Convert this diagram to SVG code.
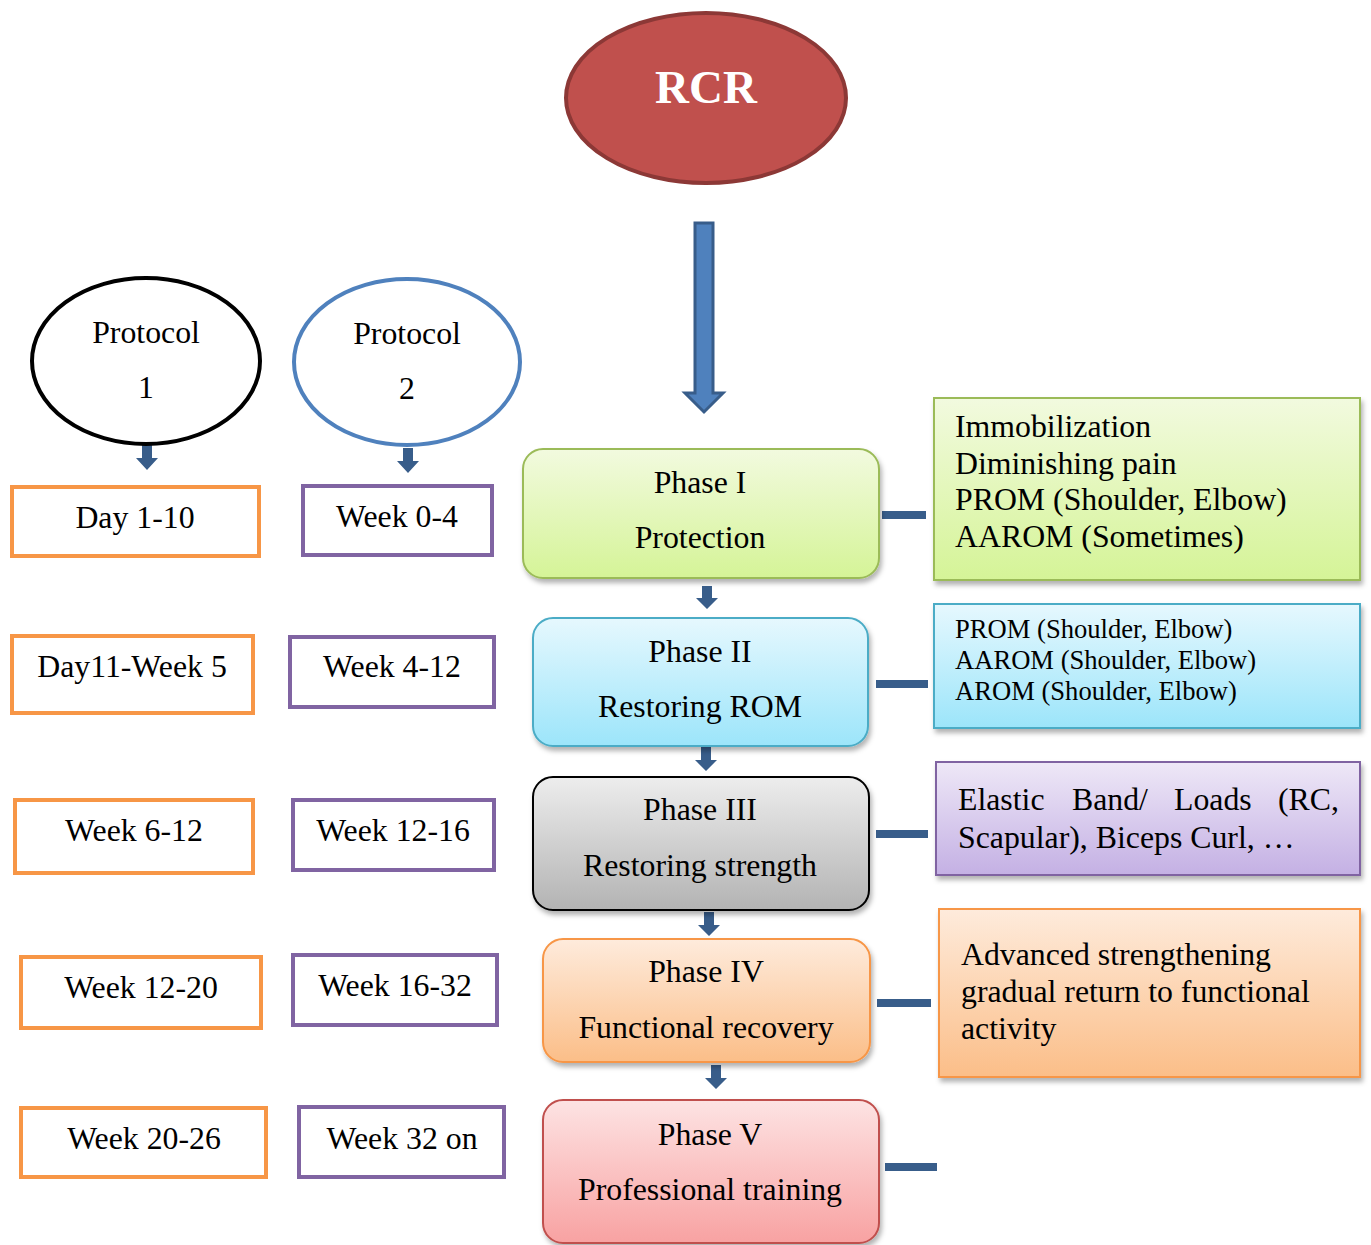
<svg xmlns="http://www.w3.org/2000/svg" width="1371" height="1245" viewBox="0 0 1371 1245">
<style>
text{font-family:"Liberation Serif","Times New Roman",serif;fill:#000;}
.c{text-anchor:middle;}
.t31{font-size:31.8px;}
.t26{font-size:26.6px;}
.orange{fill:#fff;stroke:#F79646;stroke-width:4;}
.purple{fill:#fff;stroke:#8064A2;stroke-width:4;}
.dash{fill:#385D8A;}
.sarrow{fill:#385D8A;}
</style>
<defs>
<filter id="sh" x="-10%" y="-10%" width="125%" height="130%">
<feDropShadow dx="2" dy="4" stdDeviation="2.5" flood-color="#000" flood-opacity="0.3"/>
</filter>
<linearGradient id="gGreen" x1="0" y1="0" x2="0" y2="1"><stop offset="0" stop-color="#F2FADF"/><stop offset="1" stop-color="#D5F497"/></linearGradient>
<linearGradient id="gBlue" x1="0" y1="0" x2="0" y2="1"><stop offset="0" stop-color="#E6F8FE"/><stop offset="1" stop-color="#9CE5FA"/></linearGradient>
<linearGradient id="gGray" x1="0" y1="0" x2="0" y2="1"><stop offset="0" stop-color="#EDEDED"/><stop offset="1" stop-color="#B3B3B3"/></linearGradient>
<linearGradient id="gOrange" x1="0" y1="0" x2="0" y2="1"><stop offset="0" stop-color="#FEEBDC"/><stop offset="1" stop-color="#FBBE88"/></linearGradient>
<linearGradient id="gRed" x1="0" y1="0" x2="0" y2="1"><stop offset="0" stop-color="#FDE3E3"/><stop offset="1" stop-color="#F8A2A2"/></linearGradient>
<linearGradient id="gPurple" x1="0" y1="0" x2="0" y2="1"><stop offset="0" stop-color="#EEE8F7"/><stop offset="1" stop-color="#C4B0E4"/></linearGradient>
</defs>
<rect width="1371" height="1245" fill="#fff"/>

<g id="rcr">
<ellipse cx="706" cy="98" rx="140" ry="85" fill="#C0504D" stroke="#8C3836" stroke-width="4"/>
<text x="706" y="103" class="c" font-size="47" font-weight="bold" style="fill:#fff">RCR</text>
</g>

<g id="connectors">
<path d="M695,223 H713 V393 H723 L704,412 L685,393 H695 Z" fill="#4F81BD" stroke="#385D8A" stroke-width="3"/>
<path class="sarrow" d="M142,445 H152 V458 H158 L147,470 L136,458 H142 Z"/>
<path class="sarrow" d="M403,448 H413 V461 H419 L408,473 L397,461 H403 Z"/>
<path class="sarrow" d="M702,586 H712 V598 H718 L707,609 L696,598 H702 Z"/>
<path class="sarrow" d="M701,747 H711 V760 H717 L706,771 L695,760 H701 Z"/>
<path class="sarrow" d="M704,912 H714 V925 H720 L709,936 L698,925 H704 Z"/>
<path class="sarrow" d="M711,1065 H721 V1078 H727 L716,1089 L705,1078 H711 Z"/>
<rect class="dash" x="882" y="511" width="44" height="8"/>
<rect class="dash" x="876" y="680" width="52" height="8"/>
<rect class="dash" x="876" y="830" width="52" height="8"/>
<rect class="dash" x="877" y="999" width="54" height="8"/>
<rect class="dash" x="885" y="1163" width="52" height="8"/>
</g>

<g id="protocol1">
<ellipse cx="146" cy="361" rx="114" ry="83" fill="#fff" stroke="#000" stroke-width="4"/>
<text x="146" y="343" class="c t31">Protocol</text>
<text x="146" y="398" class="c t31">1</text>
</g>
<g id="protocol2">
<ellipse cx="407" cy="362" rx="113" ry="83" fill="#fff" stroke="#4F81BD" stroke-width="4"/>
<text x="407" y="344" class="c t31">Protocol</text>
<text x="407" y="399" class="c t31">2</text>
</g>

<g id="p1-day1-10"><rect class="orange" x="12" y="487" width="247" height="69"/><text x="135" y="528" class="c t31">Day 1-10</text></g>
<g id="p1-day11-week5"><rect class="orange" x="12" y="636" width="241" height="77"/><text x="132" y="677" class="c t31">Day11-Week 5</text></g>
<g id="p1-week6-12"><rect class="orange" x="15" y="800" width="238" height="73"/><text x="134" y="841" class="c t31">Week 6-12</text></g>
<g id="p1-week12-20"><rect class="orange" x="21" y="957" width="240" height="71"/><text x="141" y="998" class="c t31">Week 12-20</text></g>
<g id="p1-week20-26"><rect class="orange" x="21" y="1108" width="245" height="69"/><text x="144" y="1149" class="c t31">Week 20-26</text></g>

<g id="p2-week0-4"><rect class="purple" x="303" y="486" width="189" height="69"/><text x="397" y="527" class="c t31">Week 0-4</text></g>
<g id="p2-week4-12"><rect class="purple" x="290" y="637" width="204" height="70"/><text x="392" y="677" class="c t31">Week 4-12</text></g>
<g id="p2-week12-16"><rect class="purple" x="293" y="800" width="201" height="70"/><text x="393" y="841" class="c t31">Week 12-16</text></g>
<g id="p2-week16-32"><rect class="purple" x="293" y="955" width="204" height="70"/><text x="395" y="996" class="c t31">Week 16-32</text></g>
<g id="p2-week32on"><rect class="purple" x="299" y="1107" width="205" height="70"/><text x="402" y="1149" class="c t31">Week 32 on</text></g>

<g id="phase1">
<rect x="523" y="449" width="356" height="129" rx="20" fill="url(#gGreen)" stroke="#9BBB59" stroke-width="2" filter="url(#sh)"/>
<text x="700" y="493" class="c t31">Phase I</text>
<text x="700" y="548" class="c t31">Protection</text>
</g>
<g id="phase2">
<rect x="533" y="618" width="335" height="128" rx="20" fill="url(#gBlue)" stroke="#4BACC6" stroke-width="2" filter="url(#sh)"/>
<text x="700" y="662" class="c t31">Phase II</text>
<text x="700" y="717" class="c t31">Restoring ROM</text>
</g>
<g id="phase3">
<rect x="533" y="777" width="336" height="133" rx="20" fill="url(#gGray)" stroke="#000" stroke-width="2" filter="url(#sh)"/>
<text x="700" y="820" class="c t31">Phase III</text>
<text x="700" y="876" class="c t31">Restoring strength</text>
</g>
<g id="phase4">
<rect x="543" y="939" width="327" height="123" rx="20" fill="url(#gOrange)" stroke="#F79646" stroke-width="2" filter="url(#sh)"/>
<text x="706" y="982" class="c t31">Phase IV</text>
<text x="706" y="1038" class="c t31">Functional recovery</text>
</g>
<g id="phase5">
<rect x="543" y="1100" width="336" height="143" rx="20" fill="url(#gRed)" stroke="#C0504D" stroke-width="2" filter="url(#sh)"/>
<text x="710" y="1145" class="c t31">Phase V</text>
<text x="710" y="1200" class="c t31">Professional training</text>
</g>

<g id="detail1">
<rect x="934" y="398" width="426" height="182" fill="url(#gGreen)" stroke="#9BBB59" stroke-width="2" filter="url(#sh)"/>
<text x="955" y="437" class="t31">Immobilization</text>
<text x="955" y="474" class="t31">Diminishing pain</text>
<text x="955" y="510" class="t31">PROM (Shoulder, Elbow)</text>
<text x="955" y="547" class="t31">AAROM (Sometimes)</text>
</g>
<g id="detail2">
<rect x="934" y="604" width="426" height="124" fill="url(#gBlue)" stroke="#4BACC6" stroke-width="2" filter="url(#sh)"/>
<text x="955" y="638" class="t26">PROM (Shoulder, Elbow)</text>
<text x="955" y="669" class="t26">AAROM (Shoulder, Elbow)</text>
<text x="955" y="700" class="t26">AROM (Shoulder, Elbow)</text>
</g>
<g id="detail3">
<rect x="936" y="762" width="424" height="113" fill="url(#gPurple)" stroke="#8064A2" stroke-width="2" filter="url(#sh)"/>
<text y="810" class="t31"><tspan x="958">Elastic</tspan><tspan x="1072">Band/</tspan><tspan x="1174">Loads</tspan><tspan x="1278">(RC,</tspan></text>
<text x="958" y="848" class="t31">Scapular), Biceps Curl, …</text>
</g>
<g id="detail4">
<rect x="939" y="909" width="421" height="168" fill="url(#gOrange)" stroke="#F79646" stroke-width="2" filter="url(#sh)"/>
<text x="961" y="965" class="t31">Advanced strengthening</text>
<text x="961" y="1002" class="t31">gradual return to functional</text>
<text x="961" y="1039" class="t31">activity</text>
</g>
</svg>
